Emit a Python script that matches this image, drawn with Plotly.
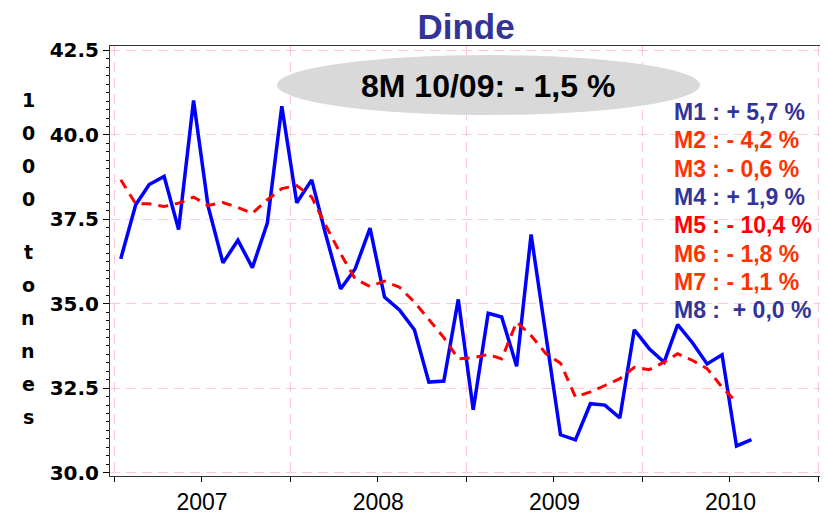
import plotly.graph_objects as go
import pandas as pd

# monthly data, Jan 2007 - Aug 2010 (1000 tonnes)
months = pd.date_range("2007-01-01", periods=44, freq="MS") + pd.Timedelta(days=14)

monthly = [36.33, 37.93, 38.53, 38.77, 37.20, 41.02, 37.90, 36.21, 36.88, 36.07, 37.39, 40.85,
           37.99, 38.67, 37.05, 35.44, 36.03, 37.24, 35.20, 34.82, 34.23, 32.68, 32.71, 35.13,
           31.86, 34.72, 34.61, 33.15, 37.05, 34.10, 31.12, 30.97, 32.04, 32.00, 31.62, 34.23,
           33.67, 33.27, 34.38, 33.84, 33.22, 33.49, 30.79, 30.98]

trend = [38.67, 37.96, 37.96, 37.88, 37.98, 38.16, 37.91, 38.00, 37.85, 37.68, 38.08, 38.41,
         38.50, 38.16, 37.32, 36.48, 35.74, 35.51, 35.67, 35.49, 35.05, 34.53, 34.00, 33.37,
         33.40, 33.50, 33.37, 34.46, 34.06, 33.52, 33.24, 32.24, 32.39, 32.58, 32.78, 33.12,
         33.05, 33.27, 33.52, 33.32, 33.08, 32.53, 32.09]

month_labels = ["M1 : + 5,7 %", "M2 : - 4,2 %", "M3 : - 0,6 %", "M4 : + 1,9 %",
                "M5 : - 10,4 %", "M6 : - 1,8 %", "M7 : - 1,1 %", "M8 :  + 0,0 %"]
month_colors = ["#333399", "#FF3300", "#FF3300", "#333399",
                "#FF0000", "#FF3300", "#FF3300", "#333399"]

summary = "8M 10/09: - 1,5 %"
unit_text = ["1", "0", "0", "0", "t", "o", "n", "n", "e", "s"]

# the page body has an 8px margin, so the figure is made smaller and
# everything below is given in page pixels
OFF = 8
W, H = 828 - OFF, 516 - OFF
L, R, T, B = 110, 822, 46, 476


def px_x(px):
    return (px - L) / (R - L)


def px_y(py):
    return (B - py) / (B - T)


fig = go.Figure()

fig.add_trace(go.Scatter(
    x=months, y=monthly, mode='lines',
    line=dict(color='#0000FF', width=3.5),
    showlegend=False
))

fig.add_trace(go.Scatter(
    x=months[:len(trend)], y=trend, mode='lines',
    line=dict(color='#FF0000', width=3, dash='10px,7px'),
    showlegend=False
))

# ellipse with the 8-month comparison
fig.add_shape(type="circle", xref="paper", yref="paper",
              x0=px_x(277), x1=px_x(700), y0=px_y(115), y1=px_y(55),
              fillcolor="#D9D9D9", line=dict(width=0), layer="above")

annotations = [dict(
    xref="paper", yref="paper", x=px_x(488), y=px_y(86),
    text=f"<b>{summary}</b>", showarrow=False,
    font=dict(family="Liberation Sans, Arial", size=32, color="black"),
    xanchor="center", yanchor="middle"
)]

for i, (lab, col) in enumerate(zip(month_labels, month_colors)):
    annotations.append(dict(
        xref="paper", yref="paper", x=px_x(672), y=px_y(112 + 28.3 * i),
        text=f"<b>{lab}</b>", showarrow=False,
        font=dict(family="Liberation Sans, Arial", size=23, color=col),
        xanchor="left", yanchor="middle"
    ))

# vertical unit label, one character per line
ys = [100, 133, 166, 199, 252, 285, 318, 351, 384, 417]
for ch, yy in zip(unit_text, ys):
    annotations.append(dict(
        xref="paper", yref="paper", x=px_x(28), y=px_y(yy),
        text=f"<b>{ch}</b>", showarrow=False,
        font=dict(family="DejaVu Sans", size=19, color="black"),
        xanchor="center", yanchor="middle"
    ))

fig.update_layout(
    width=W, height=H,
    margin=dict(l=L - OFF, r=W - (R - OFF), t=T - OFF, b=H - (B - OFF)),
    paper_bgcolor='white',
    plot_bgcolor='white',
    title=dict(text="<b>Dinde</b>", x=(466 - OFF) / W, xref="container", xanchor="center",
               y=1 - (27 - OFF) / H, yref="container", yanchor="middle",
               font=dict(family="Liberation Sans, Arial", size=35, color="#333399")),
    annotations=annotations,
    showlegend=False
)

fig.update_xaxes(
    type="date", automargin=False,
    range=["2006-12-23 17:00", "2011-01-08 07:00"],
    tick0="2007-01-01", dtick="M12", tickformat="%Y", ticklabelmode="period",
    ticks="outside", ticklen=5, tickcolor="black",
    tickfont=dict(family="Liberation Sans, Arial", size=23, color="black"),
    showgrid=True, gridcolor="#FFC8D2", griddash="10px,6px", gridwidth=1,
    minor=dict(tick0="2007-07-01", dtick="M12", ticks="outside", ticklen=5,
               tickcolor="black", showgrid=False),
    showline=True, linecolor="#333333", linewidth=1, mirror=True,
    zeroline=False
)

fig.update_yaxes(
    automargin=False,
    range=[29.90, 42.633],
    tick0=30, dtick=2.5, tickformat=".1f",
    ticks="outside", ticklen=6, tickcolor="black",
    tickfont=dict(family="DejaVu Sans", size=20, color="black", weight="bold"),
    showgrid=True, gridcolor="#FFC8D2", griddash="10px,6px", gridwidth=1,
    minor=dict(dtick=0.25, ticks="outside", ticklen=3, tickcolor="black", showgrid=False),
    showline=True, linecolor="#333333", linewidth=1, mirror=True,
    zeroline=False
)

fig.write_html("out.html")
